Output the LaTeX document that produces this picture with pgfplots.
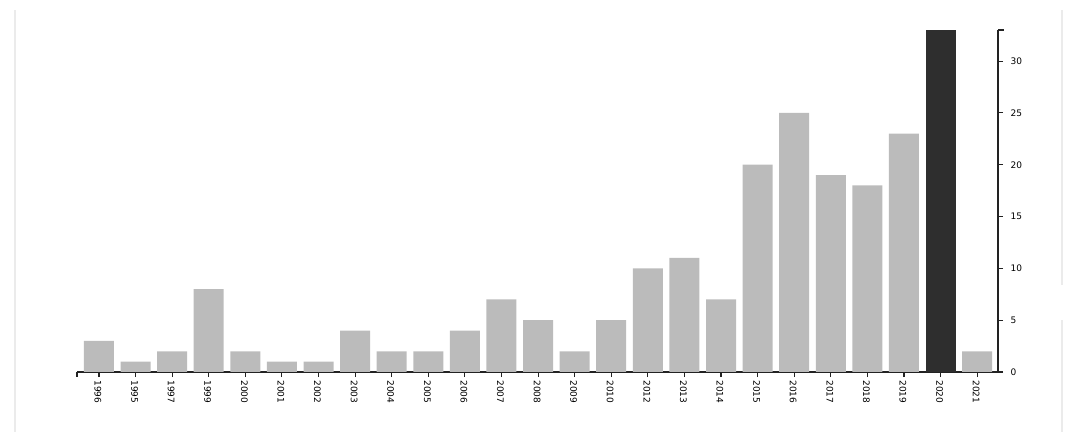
\documentclass[border=0pt]{standalone}
\usepackage{pgfplots}
\pgfplotsset{compat=1.18}
\usepackage{fontspec}
\setmainfont{DejaVu Sans}
\definecolor{barg}{HTML}{BBBBBB}
\definecolor{bard}{HTML}{2E2E2E}
\definecolor{axc}{HTML}{222222}
\definecolor{frm}{HTML}{EBEBEB}
\begin{document}
\begin{tikzpicture}[x=1pt,y=1pt]
\useasboundingbox (0,0) rectangle (1080,442);
\draw[frm,line width=1.2pt] (15,10) -- (15,432);
\draw[frm,line width=1.2pt] (1062,432) -- (1062,157);
\draw[frm,line width=1.2pt] (1062,122) -- (1062,10);
\begin{axis}[
  at={(77pt,70pt)}, anchor=south west,
  scale only axis,
  width=921pt, height=342pt,
  xmin=-0.60, xmax=24.57,
  ymin=0, ymax=33,
  axis x line=bottom,
  axis y line=right,
  axis line style={axc, line width=1.3pt, -},
  xtick={0,...,24},
  xticklabels={1996,1995,1997,1999,2000,2001,2002,2003,2004,2005,2006,2007,2008,2009,2010,2012,2013,2014,2015,2016,2017,2018,2019,2020,2021},
  ytick={0,5,10,15,20,25,30},
  tick align=outside,
  major tick length=5pt,
  tick style={axc, line width=1.1pt},
  x tick label style={rotate=-90, anchor=west, font=\fontsize{9}{10}\selectfont, yshift=-1pt},
  y tick label style={font=\fontsize{9}{10}\selectfont, xshift=4pt},
  /pgf/number format/assume math mode=true,
  ybar, bar width=30pt, bar shift=0pt,
  clip=false,
]
\addplot[fill=barg, draw=none] coordinates {
(0,3) (1,1) (2,2) (3,8) (4,2) (5,1) (6,1) (7,4) (8,2) (9,2) (10,4) (11,7) (12,5) (13,2) (14,5) (15,10) (16,11) (17,7) (18,20) (19,25) (20,19) (21,18) (22,23) (24,2)};
\addplot[fill=bard, draw=none] coordinates {(23,33)};
\end{axis}
\draw[axc, line width=1.1pt] (77,70) -- (77,65);
\draw[axc, line width=1.1pt] (998,412) -- (1004,412);
\end{tikzpicture}
\end{document}
